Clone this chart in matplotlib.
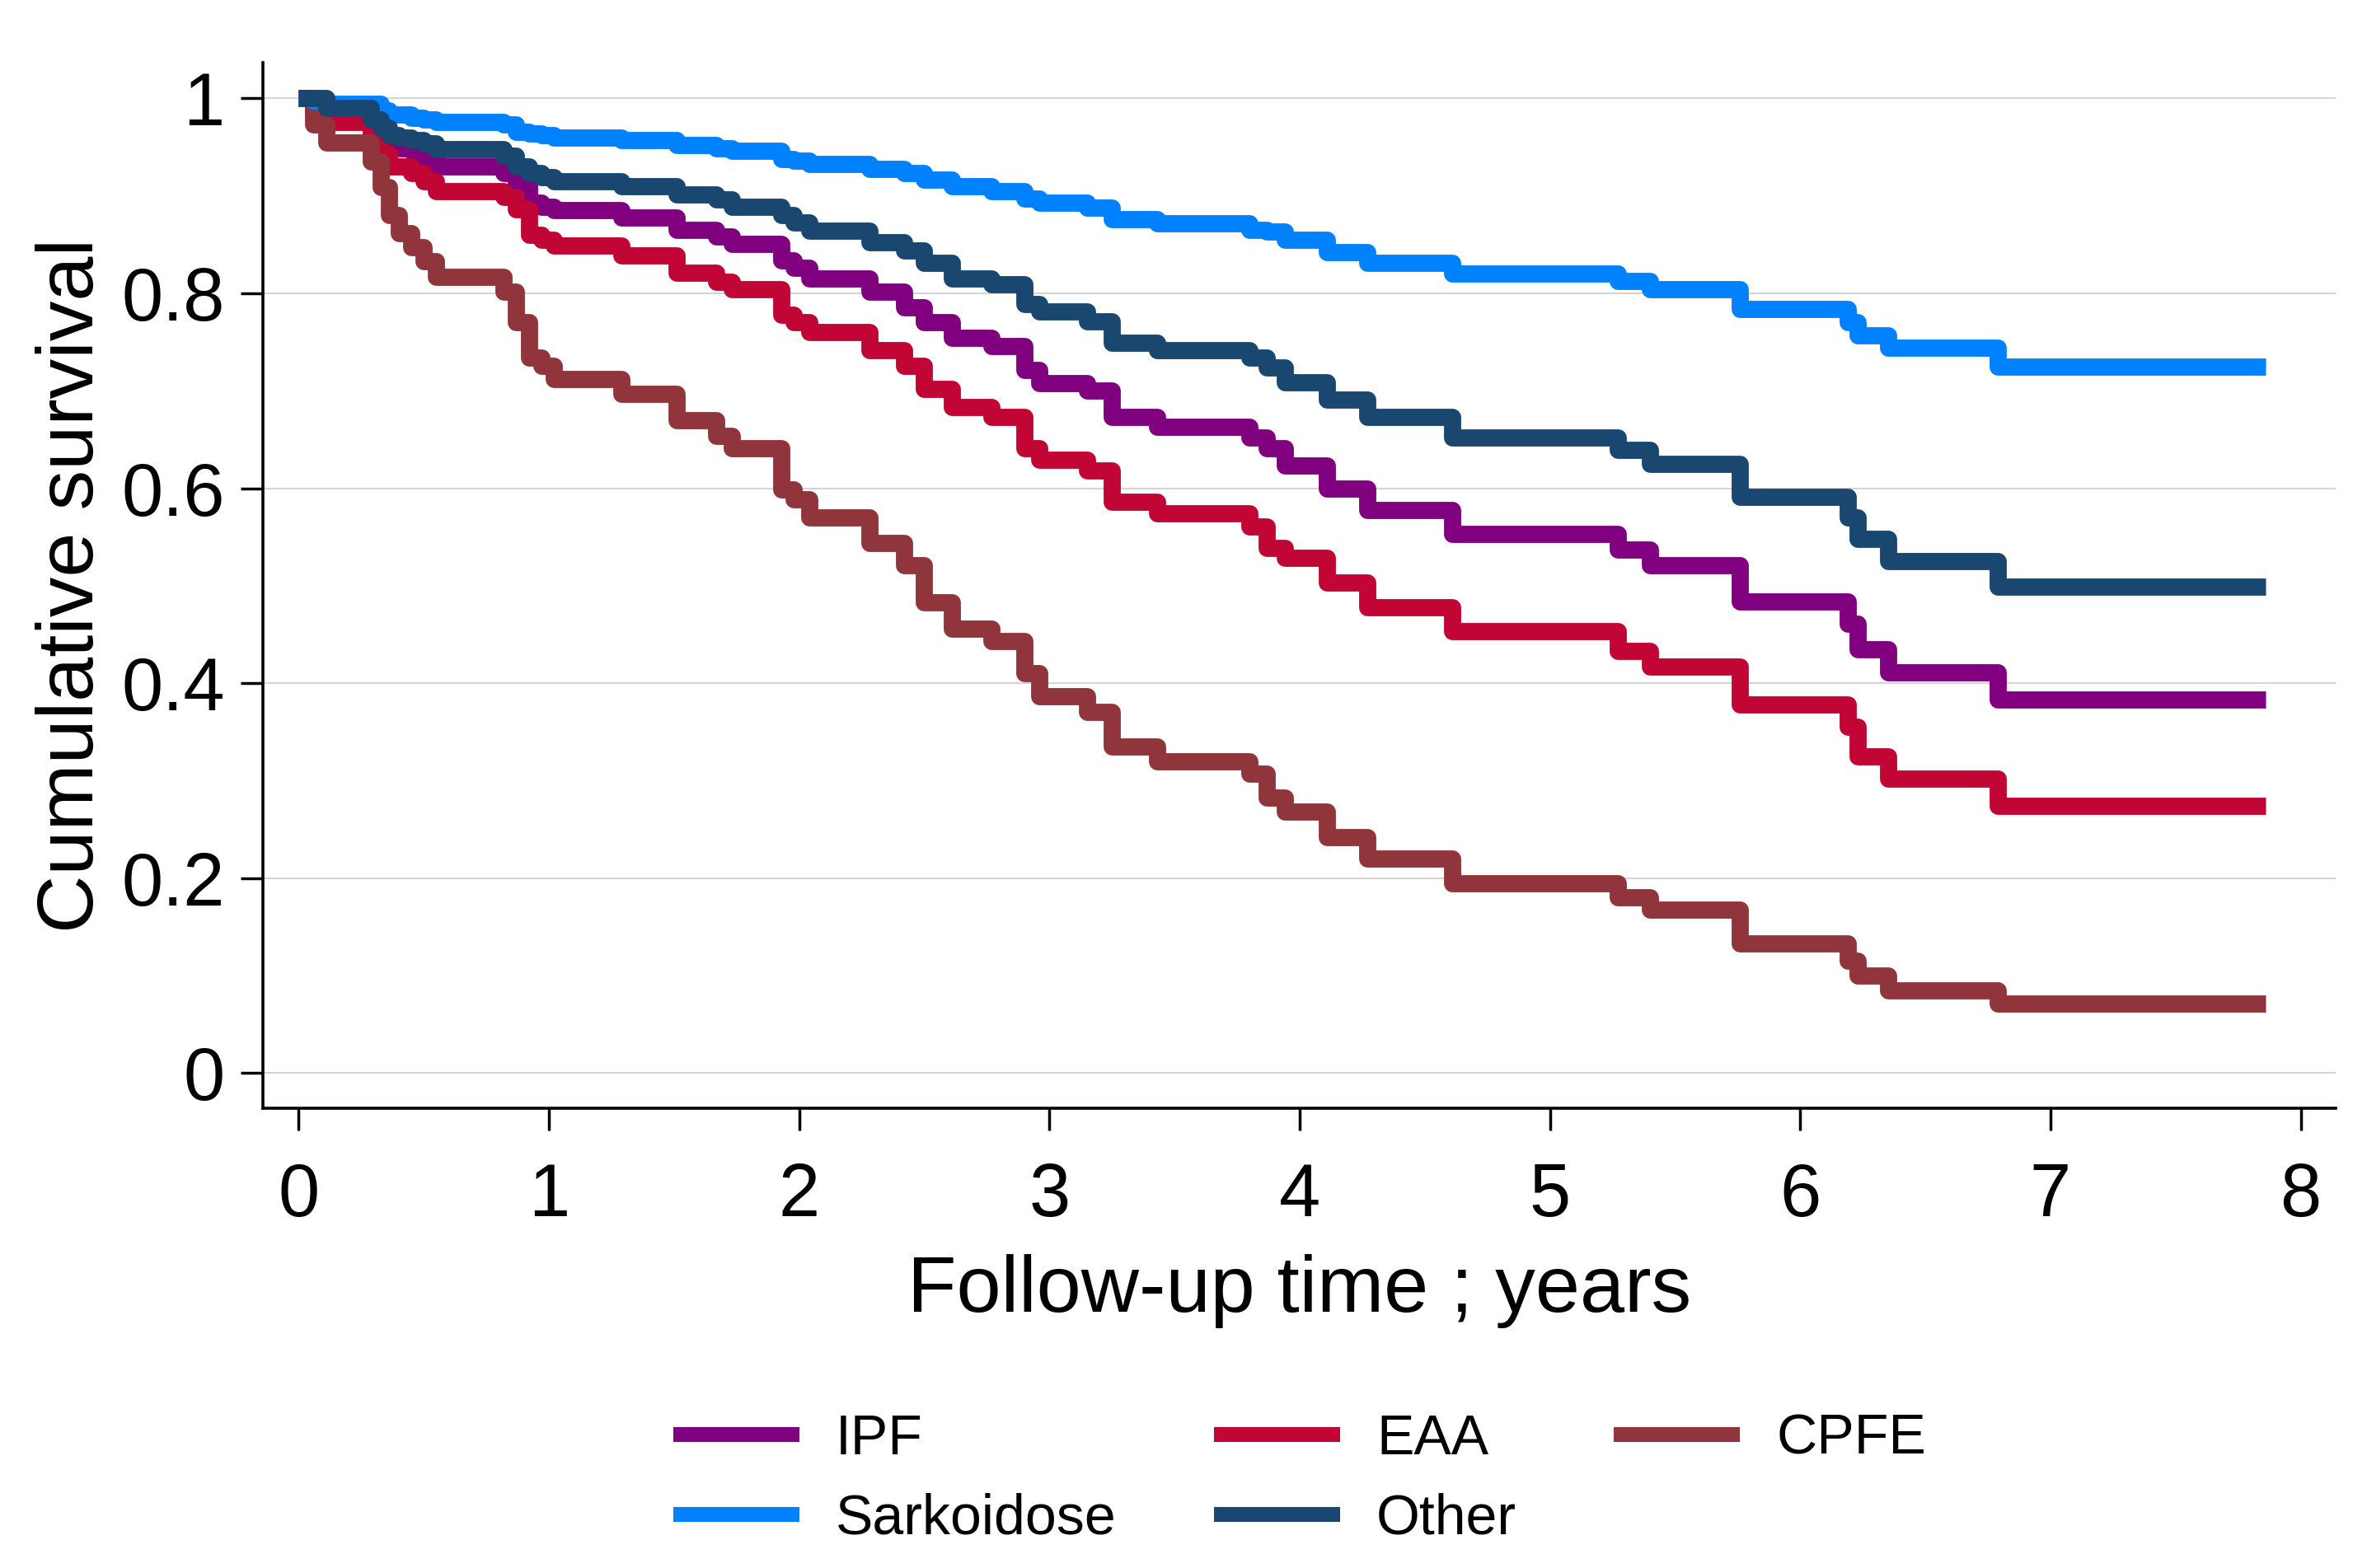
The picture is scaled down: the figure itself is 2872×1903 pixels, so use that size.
import matplotlib.pyplot as plt
import numpy as np

plt.rcParams['font.family'] = ['Liberation Sans', 'DejaVu Sans']

# step times (years)
years = [0.00, 0.06, 0.11, 0.29, 0.33, 0.36, 0.40, 0.45, 0.50, 0.55,
         0.82, 0.87, 0.92, 0.97, 1.02, 1.29, 1.51, 1.67, 1.73, 1.93,
         1.98, 2.04, 2.28, 2.42, 2.50, 2.61, 2.77, 2.90, 2.96, 3.15,
         3.25, 3.43, 3.80, 3.87, 3.94, 4.11, 4.27, 4.61, 5.27, 5.40,
         5.76, 6.19, 6.23, 6.35, 6.79, 7.86]

ipf = [1.0, 0.995, 0.985, 0.980, 0.965, 0.955, 0.949, 0.946, 0.938, 0.930,
       0.923, 0.912, 0.893, 0.889, 0.885, 0.878, 0.865, 0.858, 0.851, 0.834,
       0.826, 0.815, 0.802, 0.786, 0.770, 0.754, 0.746, 0.721, 0.708, 0.700,
       0.673, 0.663, 0.652, 0.641, 0.623, 0.600, 0.578, 0.553, 0.537, 0.521,
       0.484, 0.461, 0.435, 0.411, 0.383, 0.383]
eaa = [1.0, 0.985, 0.976, 0.960, 0.944, 0.930, 0.930, 0.923, 0.915, 0.905,
       0.899, 0.886, 0.860, 0.855, 0.849, 0.839, 0.821, 0.812, 0.804, 0.778,
       0.770, 0.760, 0.742, 0.726, 0.702, 0.683, 0.673, 0.641, 0.629, 0.618,
       0.586, 0.574, 0.561, 0.539, 0.529, 0.503, 0.478, 0.453, 0.433, 0.417,
       0.378, 0.355, 0.325, 0.302, 0.274, 0.274]
cpfe = [1.0, 0.973, 0.955, 0.935, 0.909, 0.880, 0.862, 0.847, 0.833, 0.817,
        0.802, 0.770, 0.734, 0.726, 0.712, 0.697, 0.670, 0.654, 0.641, 0.599,
        0.589, 0.570, 0.544, 0.521, 0.483, 0.456, 0.443, 0.410, 0.387, 0.371,
        0.335, 0.320, 0.307, 0.283, 0.268, 0.242, 0.220, 0.195, 0.180, 0.168,
        0.133, 0.115, 0.100, 0.085, 0.071, 0.071]
sarko = [1.0, 0.998, 0.994, 0.994, 0.988, 0.983, 0.983, 0.980, 0.978, 0.976,
         0.973, 0.966, 0.964, 0.962, 0.960, 0.957, 0.952, 0.949, 0.946, 0.938,
         0.936, 0.933, 0.928, 0.923, 0.917, 0.910, 0.905, 0.897, 0.893, 0.888,
         0.876, 0.872, 0.865, 0.863, 0.855, 0.842, 0.831, 0.820, 0.813, 0.804,
         0.784, 0.770, 0.757, 0.744, 0.725, 0.725]
other = [1.0, 1.0, 0.990, 0.978, 0.970, 0.962, 0.960, 0.957, 0.954, 0.948,
         0.941, 0.930, 0.923, 0.919, 0.915, 0.910, 0.901, 0.896, 0.889, 0.880,
         0.873, 0.864, 0.852, 0.844, 0.831, 0.815, 0.809, 0.789, 0.781, 0.771,
         0.749, 0.742, 0.734, 0.724, 0.709, 0.691, 0.673, 0.652, 0.639, 0.625,
         0.591, 0.570, 0.548, 0.525, 0.499, 0.499]

labels = ['IPF', 'EAA', 'CPFE', 'Sarkoidose', 'Other']
colors = ['#800080', '#C10534', '#90353B', '#0082FF', '#1A476F']
series = [ipf, eaa, cpfe, sarko, other]

fig = plt.figure(figsize=(28.72, 19.03), dpi=100)
ax = fig.add_axes([0.1111, 0.2932, 0.8757, 0.6671])

lines = {}
for lab, col, vals in zip(labels, colors, series):
    ln, = ax.step(years, vals, where='post', color=col, lw=15,
                  solid_joinstyle='round', solid_capstyle='butt', label=lab, zorder=3)
    lines[lab] = ln

ax.set_xlim(-0.142, 8.14)
ax.set_ylim(-0.036, 1.037)
ax.set_xticks(range(0, 9))
ax.set_yticks([0, 0.2, 0.4, 0.6, 0.8, 1])
ax.set_yticklabels(['0', '0.2', '0.4', '0.6', '0.8', '1'])
ax.grid(axis='y', color='#D4D4D4', lw=1.5, zorder=0)
ax.set_axisbelow(True)

for s in ['top', 'right']:
    ax.spines[s].set_visible(False)
for s in ['left', 'bottom']:
    ax.spines[s].set_linewidth(2.6)
ax.tick_params(direction='out', length=19.5, width=2.5, labelsize=65, pad=14)
ax.tick_params(axis='x', pad=27)

ax.set_xlabel('Follow-up time ; years', fontsize=70, labelpad=20)
ax.set_ylabel('Cumulative survival', fontsize=70, labelpad=10)

order = ['IPF', 'Sarkoidose', 'EAA', 'Other', 'CPFE']
leg = fig.legend([lines[k] for k in order], order, loc='center',
                 bbox_to_anchor=(0.549, 0.0567), ncol=3, frameon=False,
                 fontsize=49, handlelength=2.25, handletextpad=0.65,
                 columnspacing=1.73, labelspacing=0.48)
for h in leg.get_lines():
    h.set_linewidth(13)

fig.savefig('out.png', dpi=100)
